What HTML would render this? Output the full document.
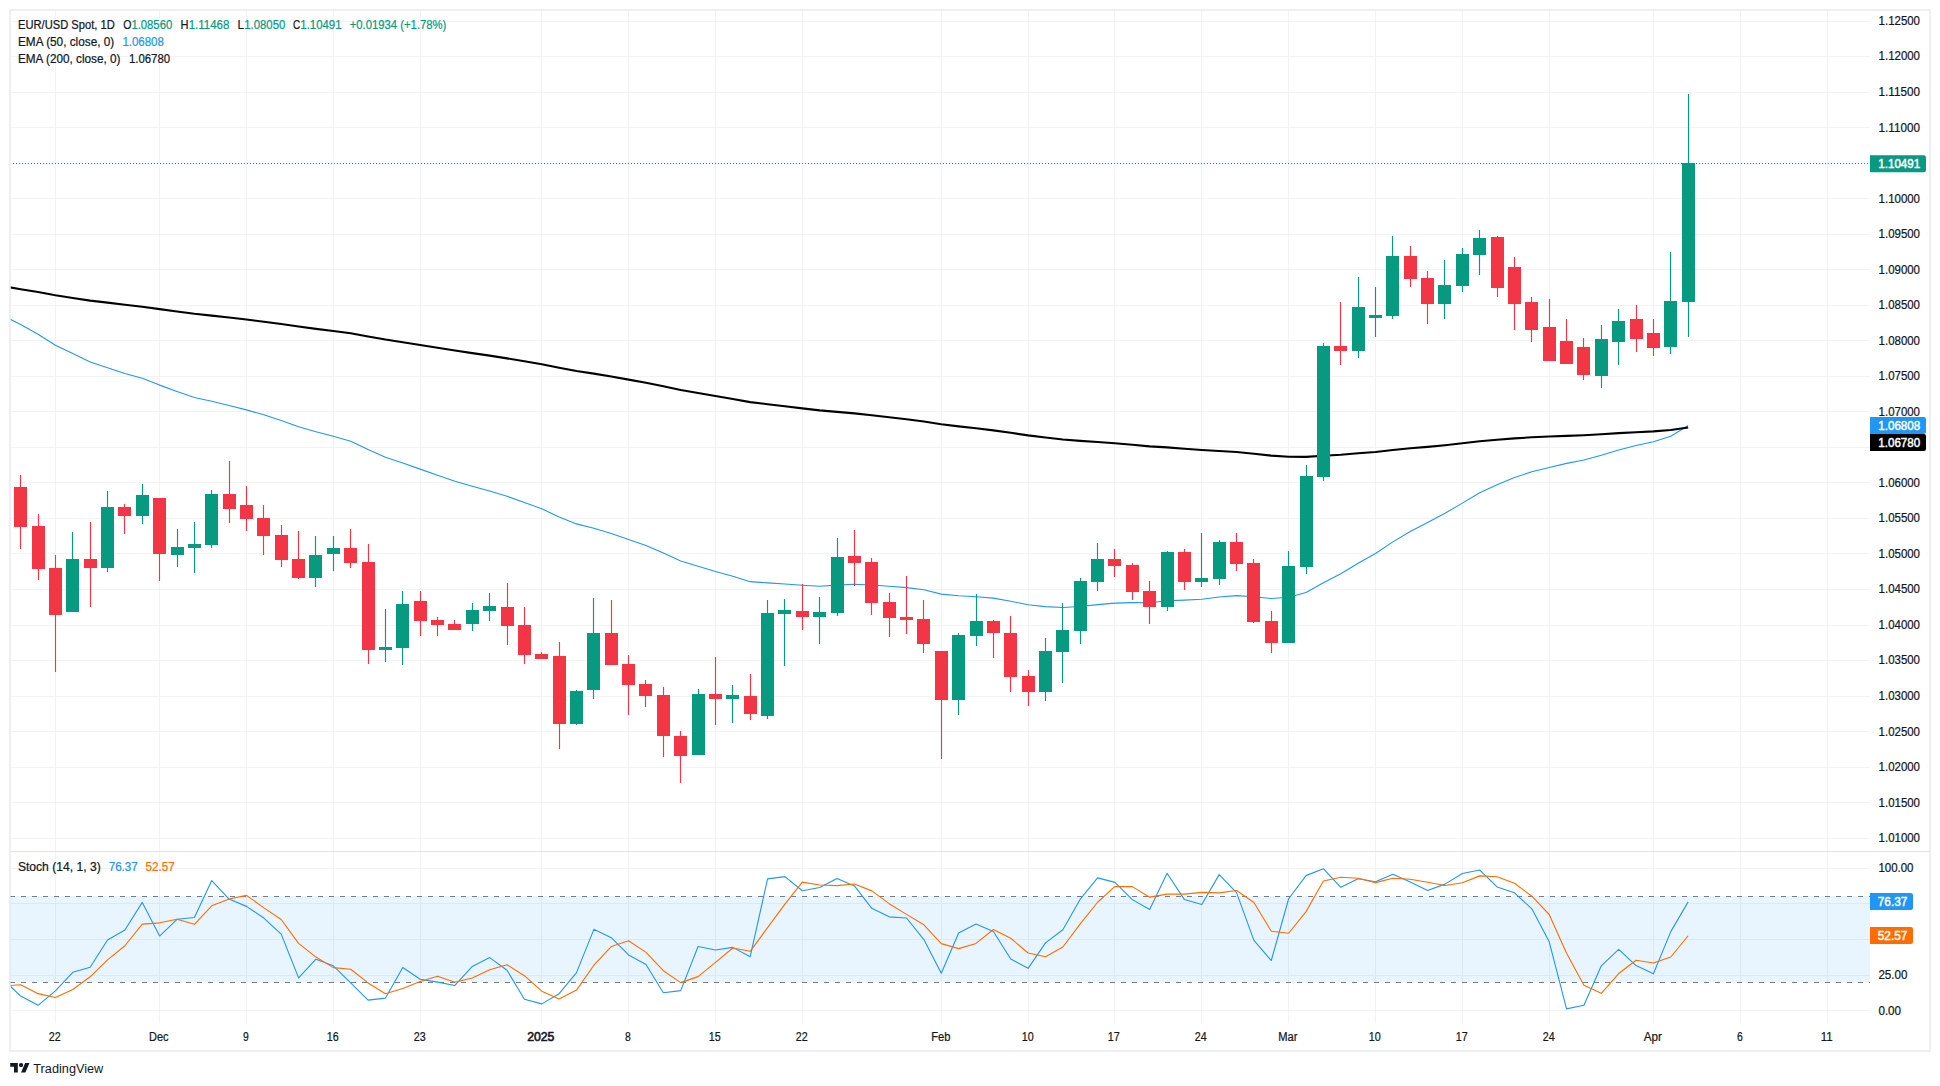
<!DOCTYPE html>
<html><head><meta charset="utf-8"><title>EUR/USD Spot 1D</title>
<style>html,body{margin:0;padding:0;background:#fff;overflow:hidden}svg{display:block}text{font-family:"Liberation Sans",sans-serif;white-space:pre}</style></head>
<body>
<svg width="1940" height="1086" viewBox="0 0 1940 1086">
<rect x="0" y="0" width="1940" height="1086" fill="#fff"/>
<defs><clipPath id="cm"><rect x="10.5" y="10.5" width="1859.5" height="840.5"/></clipPath><clipPath id="cs"><rect x="10.5" y="851" width="1859.5" height="171.5"/></clipPath></defs>
<path d="M55.5 10.5V1022.5M159.5 10.5V1022.5M246.5 10.5V1022.5M333.5 10.5V1022.5M420.5 10.5V1022.5M541.5 10.5V1022.5M628.5 10.5V1022.5M715.5 10.5V1022.5M802.5 10.5V1022.5M941.5 10.5V1022.5M1028.5 10.5V1022.5M1114.5 10.5V1022.5M1201.5 10.5V1022.5M1288.5 10.5V1022.5M1375.5 10.5V1022.5M1462.5 10.5V1022.5M1549.5 10.5V1022.5M1653.5 10.5V1022.5M1740.5 10.5V1022.5M1827.5 10.5V1022.5M10.5 21.5H1870M10.5 56.5H1870M10.5 92.5H1870M10.5 127.5H1870M10.5 163.5H1870M10.5 198.5H1870M10.5 234.5H1870M10.5 269.5H1870M10.5 305.5H1870M10.5 340.5H1870M10.5 376.5H1870M10.5 411.5H1870M10.5 447.5H1870M10.5 482.5H1870M10.5 518.5H1870M10.5 553.5H1870M10.5 589.5H1870M10.5 625.5H1870M10.5 660.5H1870M10.5 696.5H1870M10.5 731.5H1870M10.5 767.5H1870M10.5 802.5H1870M10.5 838.5H1870M10.5 868.5H1870M10.5 903.5H1870M10.5 939.5H1870M10.5 975.5H1870M10.5 1010.5H1870" stroke="#f1f3f4" stroke-width="1" fill="none" shape-rendering="crispEdges"/>
<rect x="10" y="896" width="1860" height="86" fill="rgba(33,150,243,0.1)"/>
<path d="M10 896.5H1870M10 982.5H1870" stroke="#787b86" stroke-width="1" stroke-dasharray="5 6" fill="none" shape-rendering="crispEdges"/>
<g clip-path="url(#cm)" fill="none" stroke-linejoin="round">
<path d="M3.31 315.8L20.68 324.6L38.05 334.18L55.42 345.18L72.79 353.56L90.16 361.97L107.53 367.66L124.9 373.47L142.27 378.23L159.64 385.11L177.01 391.46L194.38 397.45L211.75 401.23L229.12 405.45L246.48 409.89L263.85 414.83L281.22 420.51L298.59 426.69L315.96 431.72L333.33 436.28L350.7 441.24L368.07 449.42L385.44 457.16L402.81 462.92L420.18 469.11L437.55 475.22L454.92 481.27L472.29 486.33L489.66 491.02L507.03 496.31L524.4 502.51L541.77 508.65L559.14 517.07L576.51 523.9L593.88 528.18L611.25 533.53L628.62 539.46L645.99 545.6L663.36 553.05L680.72 561L698.09 566.22L715.46 571.42L732.83 576.27L750.2 581.66L767.57 582.9L784.94 583.96L802.31 585.25L819.68 586.3L837.05 585.15L854.42 584.28L871.79 584.99L889.16 586.28L906.53 587.59L923.9 589.8L941.27 594.11L958.64 595.72L976.01 596.71L993.38 598.13L1010.75 601.22L1028.12 604.78L1045.49 606.6L1062.86 607.51L1080.23 606.47L1097.6 604.61L1114.96 603.09L1132.33 602.65L1149.7 602.82L1167.07 600.82L1184.44 600.08L1201.81 599.22L1219.18 596.97L1236.55 595.67L1253.92 596.69L1271.29 598.49L1288.66 597.22L1306.03 592.47L1323.4 582.81L1340.77 573.71L1358.14 563.25L1375.51 553.51L1392.88 541.85L1410.25 531.54L1427.62 522.6L1444.99 513.29L1462.36 503.12L1479.73 492.72L1497.1 484.69L1514.47 477.59L1531.84 471.8L1549.2 467.45L1566.57 463.39L1583.94 459.92L1601.31 455.18L1618.68 449.91L1636.05 445.56L1653.42 441.73L1670.79 436.22L1688.16 425.5" stroke="#2196f3" stroke-width="1.1"/>
<path d="M3.31 286.2L20.68 289.3L38.05 292.08L55.42 295.29L72.79 297.92L90.16 300.6L107.53 302.66L124.9 304.78L142.27 306.67L159.64 309.13L177.01 311.49L194.38 313.81L211.75 315.6L229.12 317.52L246.48 319.52L263.85 321.68L281.22 324.05L298.59 326.57L315.96 328.85L333.33 331.03L350.7 333.33L368.07 336.48L385.44 339.57L402.81 342.2L420.18 344.97L437.55 347.76L454.92 350.56L472.29 353.15L489.66 355.66L507.03 358.35L524.4 361.3L541.77 364.26L559.14 367.83L576.51 371.05L593.88 373.66L611.25 376.55L628.62 379.62L645.99 382.77L663.36 386.28L680.72 389.95L698.09 392.98L715.46 396.02L732.83 399L750.2 402.13L767.57 404.23L784.94 406.28L802.31 408.37L819.68 410.4L837.05 411.86L854.42 413.36L871.79 415.24L889.16 417.26L906.53 419.27L923.9 421.51L941.27 424.28L958.64 426.38L976.01 428.31L993.38 430.35L1010.75 432.8L1028.12 435.38L1045.49 437.53L1062.86 439.44L1080.23 440.85L1097.6 442.03L1114.96 443.26L1132.33 444.74L1149.7 446.35L1167.07 447.4L1184.44 448.74L1201.81 450.03L1219.18 450.94L1236.55 452.06L1253.92 453.75L1271.29 455.63L1288.66 456.73L1306.03 456.92L1323.4 455.82L1340.77 454.77L1358.14 453.31L1375.51 451.93L1392.88 449.98L1410.25 448.28L1427.62 446.84L1444.99 445.23L1462.36 443.33L1479.73 441.28L1497.1 439.76L1514.47 438.4L1531.84 437.32L1549.2 436.56L1566.57 435.84L1583.94 435.23L1601.31 434.28L1618.68 433.15L1636.05 432.21L1653.42 431.37L1670.79 430.07L1688.16 427.42" stroke="#000" stroke-width="2.1"/>
<path d="M13 163.5H1870" stroke="#089981" stroke-width="1" stroke-dasharray="1 2" shape-rendering="crispEdges"/>
<path d="M72.5 532V612M107.5 491V572M142.5 484V524M177.5 529V567M194.5 522V573M211.5 490V548M315.5 536V587M333.5 536V571M385.5 609V662M402.5 591V665M472.5 603V631M489.5 593V621M576.5 690V725M593.5 598V699M698.5 689V755M732.5 685V723M767.5 600V719M784.5 599V666M819.5 597V644M837.5 538V616M958.5 633V715M976.5 594V646M1045.5 638V701M1062.5 603V683M1080.5 578V644M1097.5 543V591M1167.5 551V611M1201.5 533V587M1219.5 540V585M1288.5 551V643M1306.5 465V574M1323.5 343V481M1358.5 277V358M1375.5 287V337M1392.5 236V319M1444.5 260V319M1462.5 248V292M1479.5 230V275M1601.5 325V388M1618.5 309V365M1670.5 252V354M1688.5 94V337" stroke="#089981" stroke-width="1.15"/>
<path d="M66 559h13V612h-13zM101 507h13V568h-13zM136 495h13V516h-13zM171 547h13V555h-13zM188 544h13V548h-13zM205 494h13V545h-13zM309 555h13V578h-13zM327 548h13V554h-13zM379 647h13V650h-13zM396 604h13V648h-13zM466 610h13V624h-13zM483 606h13V611h-13zM570 691h13V724h-13zM587 633h13V690h-13zM692 694h13V755h-13zM726 695h13V699h-13zM761 613h13V716h-13zM778 610h13V614h-13zM813 612h13V617h-13zM831 557h13V613h-13zM952 635h13V700h-13zM970 621h13V636h-13zM1039 651h13V692h-13zM1056 630h13V652h-13zM1074 581h13V631h-13zM1091 559h13V582h-13zM1161 552h13V607h-13zM1195 578h13V582h-13zM1213 542h13V579h-13zM1282 566h13V643h-13zM1300 476h13V567h-13zM1317 346h13V477h-13zM1352 307h13V351h-13zM1369 315h13V318h-13zM1386 256h13V316h-13zM1438 285h13V304h-13zM1456 254h13V286h-13zM1473 238h13V255h-13zM1595 339h13V376h-13zM1612 321h13V342h-13zM1664 301h13V347h-13zM1682 163h13V302h-13z" fill="#089981" stroke="none"/>
<path d="M20.5 475V549M38.5 514V580M55.5 555V672M90.5 522V607M124.5 504V534M159.5 498V581M229.5 461V523M246.5 486V531M263.5 505V555M281.5 525V567M298.5 531V579M350.5 529V568M368.5 544V664M420.5 591V636M437.5 617V636M454.5 620V630M507.5 583V645M524.5 607V664M541.5 652V659M559.5 642V749M611.5 600V665M628.5 655V715M645.5 680V707M663.5 687V757M680.5 731V783M715.5 657V725M750.5 674V720M802.5 584V630M854.5 530V586M871.5 558V615M889.5 593V637M906.5 576V634M923.5 600V653M941.5 651V759M993.5 620V658M1010.5 616V692M1028.5 670V706M1114.5 549V577M1132.5 563V600M1149.5 581V624M1184.5 549V590M1236.5 533V571M1253.5 559V623M1271.5 611V653M1340.5 302V365M1410.5 246V287M1427.5 271V324M1497.5 236V297M1514.5 257V330M1531.5 297V342M1549.5 299V361M1566.5 319V364M1583.5 338V380M1636.5 305V352M1653.5 319V356" stroke="#f23645" stroke-width="1.15"/>
<path d="M14 487h13V527h-13zM32 526h13V569h-13zM49 568h13V615h-13zM84 559h13V568h-13zM118 507h13V516h-13zM153 498h13V554h-13zM223 494h13V509h-13zM240 505h13V519h-13zM257 518h13V536h-13zM275 535h13V560h-13zM292 559h13V578h-13zM344 548h13V563h-13zM362 562h13V650h-13zM414 601h13V621h-13zM431 620h13V625h-13zM448 624h13V630h-13zM501 607h13V626h-13zM518 625h13V655h-13zM535 654h13V659h-13zM553 656h13V724h-13zM605 633h13V665h-13zM622 664h13V685h-13zM639 684h13V696h-13zM657 695h13V736h-13zM674 736h13V756h-13zM709 694h13V699h-13zM744 696h13V714h-13zM796 611h13V617h-13zM848 556h13V563h-13zM865 562h13V603h-13zM883 602h13V618h-13zM900 617h13V620h-13zM917 619h13V644h-13zM935 651h13V700h-13zM987 621h13V633h-13zM1004 633h13V677h-13zM1022 676h13V692h-13zM1108 559h13V566h-13zM1126 565h13V592h-13zM1143 591h13V607h-13zM1178 552h13V582h-13zM1230 542h13V564h-13zM1247 563h13V622h-13zM1265 621h13V643h-13zM1334 346h13V351h-13zM1404 256h13V279h-13zM1421 278h13V304h-13zM1491 237h13V288h-13zM1508 267h13V304h-13zM1525 302h13V330h-13zM1543 327h13V361h-13zM1560 341h13V364h-13zM1577 347h13V375h-13zM1630 319h13V339h-13zM1647 333h13V348h-13z" fill="#f23645" stroke="none"/>
</g>
<g clip-path="url(#cs)" fill="none" stroke-linejoin="round">
<path d="M3.31 979.5L20.68 996.06L38.05 1005.35L55.42 990.91L72.79 972.34L90.16 967.18L107.53 939.95L124.9 930.05L142.27 902.41L159.64 936.03L177.01 919.32L194.38 917.47L211.75 880.54L229.12 899.11L246.48 906.37L263.85 918.04L281.22 934.17L298.59 977.86L315.96 959.23L333.33 965.83L350.7 982.8L368.07 1000.15L385.44 998.08L402.81 967.46L420.18 979.22L437.55 982.1L454.92 985.43L472.29 966.42L489.66 957.57L507.03 970.23L524.4 999.33L541.77 1003.87L559.14 993.69L576.51 972.61L593.88 929.37L611.25 937.72L628.62 954.92L645.99 964.5L663.36 992.72L680.72 990.61L698.09 946.56L715.46 949.96L732.83 947.37L750.2 956.65L767.57 878.91L784.94 876.63L802.31 890.78L819.68 887.53L837.05 878.44L854.42 885.9L871.79 908.29L889.16 916.86L906.53 918.01L923.9 939.61L941.27 973.28L958.64 932.97L976.01 924.06L993.38 931.56L1010.75 958.99L1028.12 968.33L1045.49 942.87L1062.86 929.72L1080.23 899.17L1097.6 877.85L1114.96 882.36L1132.33 899.61L1149.7 909.51L1167.07 873.2L1184.44 899.58L1201.81 904.43L1219.18 874.65L1236.55 892.63L1253.92 940.41L1271.29 960.52L1288.66 898.73L1306.03 875.62L1323.4 868.71L1340.77 887.26L1358.14 878.8L1375.51 881.72L1392.88 874.18L1410.25 882.02L1427.62 890.49L1444.99 884.12L1462.36 873.48L1479.73 870.03L1497.1 886.94L1514.47 892.83L1531.84 908.86L1549.2 941.81L1566.57 1008.85L1583.94 1005.3L1601.31 965.83L1618.68 949.45L1636.05 965.62L1653.42 973.81L1670.79 931.64L1688.16 901.87" stroke="#2196f3" stroke-width="1.1"/>
<path d="M3.31 985.9L20.68 984.72L38.05 993.64L55.42 997.44L72.79 989.53L90.16 976.81L107.53 959.83L124.9 945.73L142.27 924.14L159.64 922.83L177.01 919.26L194.38 924.28L211.75 905.78L229.12 899.04L246.48 895.34L263.85 907.84L281.22 919.52L298.59 943.36L315.96 957.09L333.33 967.64L350.7 969.28L368.07 982.93L385.44 993.68L402.81 988.56L420.18 981.59L437.55 976.26L454.92 982.25L472.29 977.98L489.66 969.81L507.03 964.74L524.4 975.71L541.77 991.14L559.14 998.96L576.51 990.06L593.88 965.22L611.25 946.57L628.62 940.67L645.99 952.38L663.36 970.72L680.72 982.61L698.09 976.63L715.46 962.38L732.83 947.96L750.2 951.32L767.57 927.64L784.94 904.06L802.31 882.11L819.68 884.98L837.05 885.58L854.42 883.96L871.79 890.88L889.16 903.68L906.53 914.39L923.9 924.83L941.27 943.63L958.64 948.62L976.01 943.44L993.38 929.53L1010.75 938.21L1028.12 952.96L1045.49 956.73L1062.86 946.97L1080.23 923.92L1097.6 902.25L1114.96 886.46L1132.33 886.61L1149.7 897.16L1167.07 894.11L1184.44 894.1L1201.81 892.41L1219.18 892.89L1236.55 890.57L1253.92 902.57L1271.29 931.19L1288.66 933.22L1306.03 911.62L1323.4 881.02L1340.77 877.2L1358.14 878.26L1375.51 882.6L1392.88 878.24L1410.25 879.31L1427.62 882.23L1444.99 885.54L1462.36 882.7L1479.73 875.88L1497.1 876.82L1514.47 883.27L1531.84 896.21L1549.2 914.5L1566.57 953.17L1583.94 985.32L1601.31 993.33L1618.68 973.53L1636.05 960.3L1653.42 962.96L1670.79 957.02L1688.16 935.77" stroke="#ff6d00" stroke-width="1.1"/>
</g>
<path d="M10.0 851.5H1930" stroke="#e0e3eb" stroke-width="1" fill="none"/>
<rect x="10" y="10" width="1920" height="1041" fill="none" stroke="#e0e3eb" stroke-width="1.15"/>
<text x="1878.6" y="24.92" font-size="12" fill="#131722" textLength="41.4" lengthAdjust="spacingAndGlyphs" stroke="#131722" stroke-width="0.22">1.12500</text>
<text x="1878.6" y="60.45" font-size="12" fill="#131722" textLength="41.4" lengthAdjust="spacingAndGlyphs" stroke="#131722" stroke-width="0.22">1.12000</text>
<text x="1878.6" y="95.98" font-size="12" fill="#131722" textLength="41.4" lengthAdjust="spacingAndGlyphs" stroke="#131722" stroke-width="0.22">1.11500</text>
<text x="1878.6" y="131.51" font-size="12" fill="#131722" textLength="41.4" lengthAdjust="spacingAndGlyphs" stroke="#131722" stroke-width="0.22">1.11000</text>
<text x="1878.6" y="202.57" font-size="12" fill="#131722" textLength="41.4" lengthAdjust="spacingAndGlyphs" stroke="#131722" stroke-width="0.22">1.10000</text>
<text x="1878.6" y="238.1" font-size="12" fill="#131722" textLength="41.4" lengthAdjust="spacingAndGlyphs" stroke="#131722" stroke-width="0.22">1.09500</text>
<text x="1878.6" y="273.63" font-size="12" fill="#131722" textLength="41.4" lengthAdjust="spacingAndGlyphs" stroke="#131722" stroke-width="0.22">1.09000</text>
<text x="1878.6" y="309.16" font-size="12" fill="#131722" textLength="41.4" lengthAdjust="spacingAndGlyphs" stroke="#131722" stroke-width="0.22">1.08500</text>
<text x="1878.6" y="344.69" font-size="12" fill="#131722" textLength="41.4" lengthAdjust="spacingAndGlyphs" stroke="#131722" stroke-width="0.22">1.08000</text>
<text x="1878.6" y="380.22" font-size="12" fill="#131722" textLength="41.4" lengthAdjust="spacingAndGlyphs" stroke="#131722" stroke-width="0.22">1.07500</text>
<text x="1878.6" y="415.75" font-size="12" fill="#131722" textLength="41.4" lengthAdjust="spacingAndGlyphs" stroke="#131722" stroke-width="0.22">1.07000</text>
<text x="1878.6" y="486.81" font-size="12" fill="#131722" textLength="41.4" lengthAdjust="spacingAndGlyphs" stroke="#131722" stroke-width="0.22">1.06000</text>
<text x="1878.6" y="522.34" font-size="12" fill="#131722" textLength="41.4" lengthAdjust="spacingAndGlyphs" stroke="#131722" stroke-width="0.22">1.05500</text>
<text x="1878.6" y="557.87" font-size="12" fill="#131722" textLength="41.4" lengthAdjust="spacingAndGlyphs" stroke="#131722" stroke-width="0.22">1.05000</text>
<text x="1878.6" y="593.4" font-size="12" fill="#131722" textLength="41.4" lengthAdjust="spacingAndGlyphs" stroke="#131722" stroke-width="0.22">1.04500</text>
<text x="1878.6" y="628.93" font-size="12" fill="#131722" textLength="41.4" lengthAdjust="spacingAndGlyphs" stroke="#131722" stroke-width="0.22">1.04000</text>
<text x="1878.6" y="664.46" font-size="12" fill="#131722" textLength="41.4" lengthAdjust="spacingAndGlyphs" stroke="#131722" stroke-width="0.22">1.03500</text>
<text x="1878.6" y="699.99" font-size="12" fill="#131722" textLength="41.4" lengthAdjust="spacingAndGlyphs" stroke="#131722" stroke-width="0.22">1.03000</text>
<text x="1878.6" y="735.52" font-size="12" fill="#131722" textLength="41.4" lengthAdjust="spacingAndGlyphs" stroke="#131722" stroke-width="0.22">1.02500</text>
<text x="1878.6" y="771.05" font-size="12" fill="#131722" textLength="41.4" lengthAdjust="spacingAndGlyphs" stroke="#131722" stroke-width="0.22">1.02000</text>
<text x="1878.6" y="806.58" font-size="12" fill="#131722" textLength="41.4" lengthAdjust="spacingAndGlyphs" stroke="#131722" stroke-width="0.22">1.01500</text>
<text x="1878.6" y="842.11" font-size="12" fill="#131722" textLength="41.4" lengthAdjust="spacingAndGlyphs" stroke="#131722" stroke-width="0.22">1.01000</text>
<path d="M1870 155.2H1923.8Q1926 155.2 1926 157.4V170Q1926 172.2 1923.8 172.2H1870z" fill="#089981"/>
<text x="1878.3" y="167.9" font-size="12" fill="#fff" textLength="41.9" lengthAdjust="spacingAndGlyphs" stroke="#fff" stroke-width="0.45">1.10491</text>
<path d="M1870 417H1923.8Q1926 417 1926 419.2V431.8Q1926 434 1923.8 434H1870z" fill="#2196f3"/>
<text x="1878.3" y="429.7" font-size="12" fill="#fff" textLength="41.9" lengthAdjust="spacingAndGlyphs" stroke="#fff" stroke-width="0.45">1.06808</text>
<path d="M1870 434H1923.8Q1926 434 1926 436.2V448.8Q1926 451 1923.8 451H1870z" fill="#000"/>
<text x="1878.3" y="446.7" font-size="12" fill="#fff" textLength="41.9" lengthAdjust="spacingAndGlyphs" stroke="#fff" stroke-width="0.45">1.06780</text>
<text x="1878.4" y="872.05" font-size="12" fill="#131722" textLength="35.1" lengthAdjust="spacingAndGlyphs" stroke="#131722" stroke-width="0.22">100.00</text>
<text x="1878.4" y="979.08" font-size="12" fill="#131722" textLength="29" lengthAdjust="spacingAndGlyphs" stroke="#131722" stroke-width="0.22">25.00</text>
<text x="1878.4" y="1014.75" font-size="12" fill="#131722" textLength="22.7" lengthAdjust="spacingAndGlyphs" stroke="#131722" stroke-width="0.22">0.00</text>
<path d="M1870 893H1910.8Q1913 893 1913 895.2V907.8Q1913 910 1910.8 910H1870z" fill="#2196f3"/>
<text x="1877.7" y="905.7" font-size="12" fill="#fff" textLength="29.7" lengthAdjust="spacingAndGlyphs" stroke="#fff" stroke-width="0.45">76.37</text>
<path d="M1870 927H1910.8Q1913 927 1913 929.2V941.8Q1913 944 1910.8 944H1870z" fill="#ff6d00"/>
<text x="1877.7" y="939.7" font-size="12" fill="#fff" textLength="29.7" lengthAdjust="spacingAndGlyphs" stroke="#fff" stroke-width="0.45">52.57</text>
<text x="18" y="28.7" font-size="12" fill="#131722" textLength="96.7" lengthAdjust="spacingAndGlyphs" stroke="#131722" stroke-width="0.22">EUR/USD Spot, 1D</text>
<text x="123.2" y="28.7" font-size="12" fill="#131722" textLength="8.2" lengthAdjust="spacingAndGlyphs" stroke="#131722" stroke-width="0.22">O</text>
<text x="131.4" y="28.7" font-size="12" fill="#089981" textLength="40.8" lengthAdjust="spacingAndGlyphs" stroke="#089981" stroke-width="0.22">1.08560</text>
<text x="180.4" y="28.7" font-size="12" fill="#131722" textLength="8" lengthAdjust="spacingAndGlyphs" stroke="#131722" stroke-width="0.22">H</text>
<text x="188.7" y="28.7" font-size="12" fill="#089981" textLength="40.7" lengthAdjust="spacingAndGlyphs" stroke="#089981" stroke-width="0.22">1.11468</text>
<text x="237.6" y="28.7" font-size="12" fill="#131722" textLength="6.5" lengthAdjust="spacingAndGlyphs" stroke="#131722" stroke-width="0.22">L</text>
<text x="244.3" y="28.7" font-size="12" fill="#089981" textLength="41" lengthAdjust="spacingAndGlyphs" stroke="#089981" stroke-width="0.22">1.08050</text>
<text x="293" y="28.7" font-size="12" fill="#131722" textLength="7.2" lengthAdjust="spacingAndGlyphs" stroke="#131722" stroke-width="0.22">C</text>
<text x="300.3" y="28.7" font-size="12" fill="#089981" textLength="41.2" lengthAdjust="spacingAndGlyphs" stroke="#089981" stroke-width="0.22">1.10491</text>
<text x="349.7" y="28.7" font-size="12" fill="#089981" textLength="96.7" lengthAdjust="spacingAndGlyphs" stroke="#089981" stroke-width="0.22">+0.01934 (+1.78%)</text>
<text x="18" y="45.7" font-size="12" fill="#131722" textLength="96.2" lengthAdjust="spacingAndGlyphs" stroke="#131722" stroke-width="0.22">EMA (50, close, 0)</text>
<text x="122.4" y="45.7" font-size="12" fill="#2196f3" textLength="41.5" lengthAdjust="spacingAndGlyphs" stroke="#2196f3" stroke-width="0.22">1.06808</text>
<text x="18" y="62.7" font-size="12" fill="#131722" textLength="102.4" lengthAdjust="spacingAndGlyphs" stroke="#131722" stroke-width="0.22">EMA (200, close, 0)</text>
<text x="128.9" y="62.7" font-size="12" fill="#131722" textLength="41.2" lengthAdjust="spacingAndGlyphs" stroke="#131722" stroke-width="0.22">1.06780</text>
<text x="17.9" y="871.3" font-size="12" fill="#131722" textLength="82.8" lengthAdjust="spacingAndGlyphs" stroke="#131722" stroke-width="0.22">Stoch (14, 1, 3)</text>
<text x="108.7" y="871.3" font-size="12" fill="#2196f3" textLength="29.1" lengthAdjust="spacingAndGlyphs" stroke="#2196f3" stroke-width="0.22">76.37</text>
<text x="145.4" y="871.3" font-size="12" fill="#ff6d00" textLength="29.3" lengthAdjust="spacingAndGlyphs" stroke="#ff6d00" stroke-width="0.22">52.57</text>
<text x="54.8" y="1040.7" font-size="12" fill="#131722" text-anchor="middle" textLength="11.92" lengthAdjust="spacingAndGlyphs" stroke="#131722" stroke-width="0.22">22</text>
<text x="158.8" y="1040.7" font-size="12" fill="#131722" text-anchor="middle" textLength="19.5" lengthAdjust="spacingAndGlyphs" stroke="#131722" stroke-width="0.22">Dec</text>
<text x="245.8" y="1040.7" font-size="12" fill="#131722" text-anchor="middle" textLength="5.76" lengthAdjust="spacingAndGlyphs" stroke="#131722" stroke-width="0.22">9</text>
<text x="332.8" y="1040.7" font-size="12" fill="#131722" text-anchor="middle" textLength="11.92" lengthAdjust="spacingAndGlyphs" stroke="#131722" stroke-width="0.22">16</text>
<text x="419.8" y="1040.7" font-size="12" fill="#131722" text-anchor="middle" textLength="11.92" lengthAdjust="spacingAndGlyphs" stroke="#131722" stroke-width="0.22">23</text>
<text x="540.8" y="1040.7" font-size="12" fill="#131722" text-anchor="middle" textLength="27.2" lengthAdjust="spacingAndGlyphs" stroke="#131722" stroke-width="0.6">2025</text>
<text x="627.8" y="1040.7" font-size="12" fill="#131722" text-anchor="middle" textLength="5.76" lengthAdjust="spacingAndGlyphs" stroke="#131722" stroke-width="0.22">8</text>
<text x="714.8" y="1040.7" font-size="12" fill="#131722" text-anchor="middle" textLength="11.92" lengthAdjust="spacingAndGlyphs" stroke="#131722" stroke-width="0.22">15</text>
<text x="801.8" y="1040.7" font-size="12" fill="#131722" text-anchor="middle" textLength="11.92" lengthAdjust="spacingAndGlyphs" stroke="#131722" stroke-width="0.22">22</text>
<text x="940.8" y="1040.7" font-size="12" fill="#131722" text-anchor="middle" textLength="19.2" lengthAdjust="spacingAndGlyphs" stroke="#131722" stroke-width="0.22">Feb</text>
<text x="1027.8" y="1040.7" font-size="12" fill="#131722" text-anchor="middle" textLength="11.92" lengthAdjust="spacingAndGlyphs" stroke="#131722" stroke-width="0.22">10</text>
<text x="1113.8" y="1040.7" font-size="12" fill="#131722" text-anchor="middle" textLength="11.92" lengthAdjust="spacingAndGlyphs" stroke="#131722" stroke-width="0.22">17</text>
<text x="1200.8" y="1040.7" font-size="12" fill="#131722" text-anchor="middle" textLength="11.92" lengthAdjust="spacingAndGlyphs" stroke="#131722" stroke-width="0.22">24</text>
<text x="1287.8" y="1040.7" font-size="12" fill="#131722" text-anchor="middle" textLength="19.2" lengthAdjust="spacingAndGlyphs" stroke="#131722" stroke-width="0.22">Mar</text>
<text x="1374.8" y="1040.7" font-size="12" fill="#131722" text-anchor="middle" textLength="11.92" lengthAdjust="spacingAndGlyphs" stroke="#131722" stroke-width="0.22">10</text>
<text x="1461.8" y="1040.7" font-size="12" fill="#131722" text-anchor="middle" textLength="11.92" lengthAdjust="spacingAndGlyphs" stroke="#131722" stroke-width="0.22">17</text>
<text x="1548.8" y="1040.7" font-size="12" fill="#131722" text-anchor="middle" textLength="11.92" lengthAdjust="spacingAndGlyphs" stroke="#131722" stroke-width="0.22">24</text>
<text x="1652.8" y="1040.7" font-size="12" fill="#131722" text-anchor="middle" textLength="18.1" lengthAdjust="spacingAndGlyphs" stroke="#131722" stroke-width="0.22">Apr</text>
<text x="1739.8" y="1040.7" font-size="12" fill="#131722" text-anchor="middle" textLength="5.76" lengthAdjust="spacingAndGlyphs" stroke="#131722" stroke-width="0.22">6</text>
<text x="1826.8" y="1040.7" font-size="12" fill="#131722" text-anchor="middle" textLength="11.92" lengthAdjust="spacingAndGlyphs" stroke="#131722" stroke-width="0.22">11</text>
<g transform="translate(10.2,1060.76) scale(0.543,0.536)" fill="#131722"><path d="M14 22H7V11H0V4h14v18zM28 22h-8l7.5-18h8L28 22z"/><circle cx="20" cy="8" r="4"/></g>
<text x="33.3" y="1072.8" font-size="12.5" fill="#131722" textLength="70" lengthAdjust="spacingAndGlyphs">TradingView</text>
</svg>
</body></html>
